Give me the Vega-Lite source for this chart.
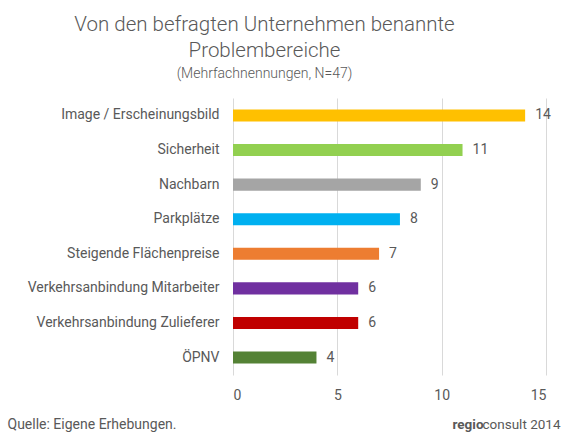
{
  "$schema": "https://vega.github.io/schema/vega-lite/v6.json",
  "autosize": "none",
  "width": 313,
  "height": 277,
  "padding": {"left": 233, "top": 98, "right": 17, "bottom": 60},
  "background": "white",
  "config": {
    "font": "Roboto",
    "view": {"stroke": null},
    "axis": {"labelColor": "#595959", "titleColor": "#595959", "labelFont": "Roboto", "titleFont": "Roboto", "labelFontSize": 14, "titleFontSize": 14, "titleFontWeight": "normal", "labelLimit": 300}
  },
  "title": {
    "text": ["Von den befragten Unternehmen benannte", "Problembereiche"],
    "subtitle": "(Mehrfachnennungen, N=47)",
    "anchor": "middle",
    "frame": "group",
    "dx": -125,
    "offset": 17,
    "fontSize": 20.5,
    "fontWeight": 300,
    "lineHeight": 26,
    "color": "#595959",
    "subtitleFontSize": 14,
    "subtitleFontWeight": 300,
    "subtitleColor": "#595959",
    "subtitlePadding": 6
  },
  "data": {
    "values": [
      {"kategorie": "Image / Erscheinungsbild", "wert": 14},
      {"kategorie": "Sicherheit", "wert": 11},
      {"kategorie": "Nachbarn", "wert": 9},
      {"kategorie": "Parkplätze", "wert": 8},
      {"kategorie": "Steigende Flächenpreise", "wert": 7},
      {"kategorie": "Verkehrsanbindung Mitarbeiter", "wert": 6},
      {"kategorie": "Verkehrsanbindung Zulieferer", "wert": 6},
      {"kategorie": "ÖPNV", "wert": 4}
    ]
  },
  "encoding": {
    "y": {"field": "kategorie", "type": "nominal", "sort": null, "scale": {"paddingInner": 0.65, "paddingOuter": 0.33}},
    "x": {"field": "wert", "type": "quantitative", "scale": {"domain": [0, 15], "nice": false}}
  },
  "layer": [
    {
      "mark": {"type": "bar"},
      "encoding": {
        "color": {
          "field": "kategorie", "type": "nominal", "sort": null, "legend": null,
          "scale": {"range": ["#FFC000", "#92D050", "#A5A5A5", "#00B0F0", "#ED7D31", "#7030A0", "#C00000", "#548235"]}
        },
        "x": {"field": "wert", "type": "quantitative",
          "axis": {"orient": "bottom", "values": [0, 5, 10, 15], "domain": false, "ticks": false, "grid": true, "gridColor": "#d9d9d9", "gridWidth": 1, "labelPadding": 13,
            "title": "Quelle: Eigene Erhebungen.", "titleX": -226, "titleY": 53, "titleAlign": "left", "titleAnchor": null, "titleBaseline": "alphabetic"}},
        "y": {"field": "kategorie", "type": "nominal", "sort": null,
          "axis": {"orient": "left", "domain": false, "ticks": false, "labelPadding": 14, "title": null}}
      }
    },
    {
      "mark": {"type": "text", "align": "left", "baseline": "middle", "dx": 10, "fontSize": 14, "color": "#595959"},
      "encoding": {
        "text": {"field": "wert", "type": "quantitative"},
        "x": {"field": "wert", "type": "quantitative",
          "axis": {"orient": "top", "labels": false, "domain": false, "ticks": false, "grid": false,
            "title": "consult 2014", "titleX": 327, "titleY": 330, "titleAlign": "right", "titleAnchor": null, "titleBaseline": "alphabetic", "titleFontSize": 13.5}},
        "y": {"field": "kategorie", "type": "nominal", "sort": null,
          "axis": {"orient": "right", "labels": false, "domain": false, "ticks": false, "grid": false,
            "title": "regio", "titleAngle": 0, "titleX": -63, "titleY": 330, "titleAlign": "right", "titleAnchor": null, "titleBaseline": "alphabetic", "titleFontWeight": "bold", "titleFontSize": 13.5}}
      }
    }
  ],
  "resolve": {"axis": {"x": "independent", "y": "independent"}}
}
